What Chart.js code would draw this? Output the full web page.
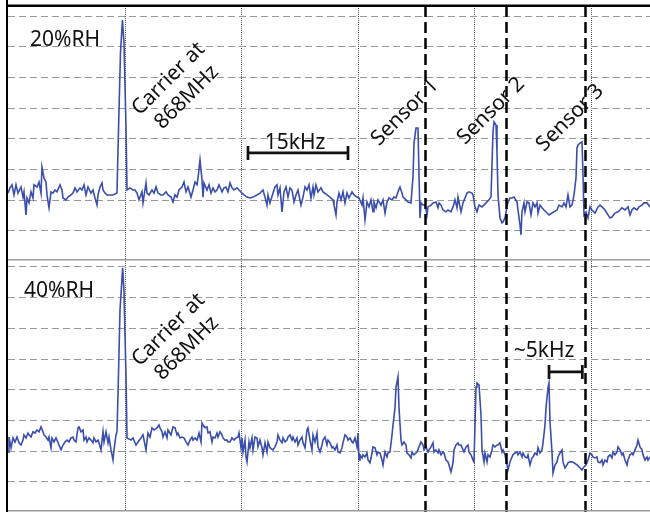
<!DOCTYPE html>
<html>
<head>
<meta charset="utf-8">
<title>RH spectrum</title>
<script src="https://cdn.jsdelivr.net/npm/chart.js"></script>
<style>
  html, body { margin: 0; padding: 0; background: #fff; }
  #wrap { position: relative; width: 650px; height: 512px; overflow: hidden; }
  canvas { position: absolute; left: 0; }
  #topPanel { top: 0; }
  #bottomPanel { top: 261px; }
</style>
</head>
<body>
<div id="wrap">
  <canvas id="topPanel" width="650" height="261"></canvas>
  <canvas id="bottomPanel" width="650" height="251"></canvas>
</div>
<script>
// frequency offset from the 868 MHz carrier (kHz) and received level (dB)
const panelTitles = ['20%RH', '40%RH'];
const carrierText = ['Carrier at', '868MHz'];
const sensorNames = ['Sensor 1', 'Sensor 2', 'Sensor 3'];
const sensorFreqs = [45.3, 57.45, 69.3];
const spanLabels = ['15kHz', '~5kHz'];
const xGridFreqs = [0.3, 17.78, 35.25, 52.73, 70.2];
const yGridLevels = [0, -10, -20, -30, -40, -50, -60, -70];

const freq20 = [
  -17.25, -16.95, -16.65, -16.35, -16.05, -15.75, -15.3, -15.0, -14.85, -14.55, -14.4, -14.1, -13.8, -13.5, -13.35,
  -12.9, -12.6, -12.3, -12.15, -11.85, -11.55, -11.4, -11.1, -10.8, -10.5, -10.2, -9.9, -9.45, -9.15, -9.0,
  -8.55, -8.25, -7.8, -7.5, -7.2, -6.9, -6.45, -6.15, -5.85, -5.55, -5.25, -4.8, -4.5, -4.2, -3.9,
  -3.75, -3.45, -3.15, -3.0, -2.7, -2.4, -1.95, -1.5, -0.9, -0.75, -0.38, -0.08, 0.15, 0.45, 0.6,
  1.05, 1.5, 1.8, 2.1, 2.4, 2.85, 3.0, 3.45, 3.6, 3.9, 4.35, 4.65, 4.95, 5.25, 5.7,
  6.0, 6.45, 6.75, 7.2, 7.5, 7.8, 8.1, 8.4, 8.85, 9.15, 9.45, 9.75, 10.2, 10.5, 10.8,
  11.1, 11.25, 11.55, 11.85, 12.0, 12.15, 12.6, 12.9, 13.2, 13.5, 13.8, 14.1, 14.4, 14.85, 15.15,
  15.45, 15.75, 16.05, 16.35, 16.65, 17.1, 17.4, 17.85, 18.15, 18.6, 19.05, 19.5, 20.1, 20.55, 21.0,
  21.3, 21.6, 21.75, 22.05, 22.5, 22.8, 23.1, 23.25, 23.55, 23.85, 24.15, 24.45, 24.75, 25.05, 25.35,
  25.65, 25.95, 26.25, 26.7, 27.0, 27.3, 27.6, 27.9, 28.2, 28.5, 28.65, 28.95, 29.25, 29.7, 30.0,
  30.6, 31.05, 31.5, 31.65, 31.95, 32.1, 32.4, 32.7, 33.0, 33.3, 33.6, 33.9, 34.35, 34.65, 35.1,
  35.4, 35.85, 36.0, 36.3, 36.6, 36.9, 37.2, 37.5, 37.65, 37.95, 38.25, 38.7, 39.0, 39.3, 39.6,
  39.9, 40.35, 40.65, 40.95, 41.25, 41.55, 41.85, 42.0, 42.45, 42.75, 43.2, 43.5, 43.65, 43.95, 44.25,
  44.4, 44.55, 44.7, 45.0, 45.3, 45.6, 45.75, 46.2, 46.5, 46.95, 47.25, 47.4, 47.7, 48.0, 48.45,
  48.75, 49.2, 49.5, 49.8, 50.1, 50.25, 50.7, 51.0, 51.3, 51.6, 51.9, 52.35, 52.5, 52.8, 53.1,
  53.4, 53.85, 54.15, 54.45, 54.9, 55.2, 55.5, 55.65, 55.95, 56.1, 56.25, 56.55, 56.85, 57.0, 57.3,
  57.6, 57.75, 58.05, 58.35, 58.65, 59.1, 59.25, 59.55, 59.7, 59.85, 60.15, 60.3, 60.6, 60.9, 61.2,
  61.5, 61.8, 62.1, 62.25, 62.55, 62.85, 63.15, 63.6, 63.9, 64.35, 64.65, 65.1, 65.4, 65.85, 66.15,
  66.45, 66.75, 67.05, 67.35, 67.65, 67.95, 68.1, 68.25, 68.55, 68.85, 69.0, 69.15, 69.45, 69.75, 70.05,
  70.35, 70.8, 71.25, 71.55, 71.85, 72.3, 72.75, 73.05, 73.35, 73.8, 74.25, 74.55, 74.85, 75.3, 75.75,
  76.05, 76.35, 76.65, 77.1, 77.4, 77.85, 78.15, 78.6, 79.05
];
const level20 = [
  -57.7, -56.0, -55.0, -58.3, -55.0, -57.7, -55.7, -59.0, -57.3, -64.8, -59.3, -60.9, -57.3, -59.3, -55.0,
  -55.7, -54.1, -57.7, -49.2, -52.8, -54.1, -58.3, -62.5, -57.3, -57.7, -56.7, -57.3, -55.0, -56.7, -59.3,
  -59.9, -59.0, -58.3, -57.7, -56.0, -57.3, -56.0, -56.7, -55.0, -58.3, -55.7, -57.7, -56.7, -59.3, -61.6,
  -58.3, -55.7, -54.4, -56.7, -57.7, -58.3, -58.3, -58.3, -57.7, -43.6, -12.1, -1.3, -8.8, -36.5, -56.7,
  -56.0, -56.7, -56.7, -57.7, -59.9, -57.3, -60.9, -54.4, -57.7, -58.3, -56.7, -57.7, -55.7, -57.7, -58.3,
  -58.3, -57.3, -58.3, -59.0, -60.6, -58.3, -59.0, -56.7, -55.7, -54.1, -57.3, -55.7, -59.0, -56.7, -54.1,
  -55.0, -52.8, -46.9, -53.4, -59.0, -54.4, -56.7, -55.0, -57.7, -56.0, -57.3, -56.7, -55.0, -57.3, -56.0,
  -55.7, -57.3, -54.4, -56.0, -56.7, -56.0, -56.7, -57.7, -58.3, -59.0, -59.3, -59.0, -58.3, -57.7, -56.7,
  -59.0, -61.6, -58.3, -60.9, -57.7, -55.7, -55.0, -58.3, -56.0, -63.8, -57.3, -55.7, -59.0, -56.0, -56.7,
  -60.6, -58.3, -56.7, -61.6, -59.0, -55.7, -56.7, -55.0, -59.3, -55.7, -58.3, -55.0, -57.3, -56.0, -57.3,
  -58.3, -59.0, -59.9, -61.6, -64.8, -60.6, -57.7, -59.9, -57.3, -60.9, -57.7, -59.3, -57.3, -58.3, -59.0,
  -59.3, -61.6, -59.3, -66.4, -60.6, -62.2, -59.9, -63.8, -60.6, -62.5, -59.9, -61.6, -59.9, -64.2, -60.6,
  -59.3, -59.9, -59.0, -59.3, -57.3, -55.7, -57.7, -59.0, -59.9, -60.6, -60.9, -52.4, -41.4, -36.5, -36.5,
  -51.8, -65.8, -60.9, -61.6, -61.6, -64.8, -62.2, -61.6, -60.9, -60.6, -62.5, -60.9, -61.6, -63.2, -63.8,
  -63.2, -63.8, -62.2, -59.9, -62.5, -59.0, -63.8, -60.9, -59.3, -57.7, -57.3, -57.7, -58.3, -62.2, -63.8,
  -61.6, -62.2, -61.6, -60.9, -59.9, -59.0, -37.8, -34.5, -35.5, -44.6, -58.3, -65.8, -67.4, -67.1, -65.8,
  -62.2, -60.6, -59.3, -59.3, -59.0, -60.6, -63.2, -68.1, -71.3, -63.8, -60.9, -63.8, -60.6, -60.9, -64.8,
  -60.9, -62.2, -60.9, -64.2, -61.6, -62.5, -63.2, -64.2, -64.8, -64.2, -63.8, -63.2, -61.6, -62.2, -60.9,
  -62.2, -58.3, -62.2, -61.6, -58.3, -52.8, -43.0, -42.0, -41.4, -41.0, -51.8, -64.8, -63.8, -65.8, -62.2,
  -63.2, -64.2, -62.2, -61.6, -62.2, -63.2, -64.8, -65.8, -65.5, -64.2, -63.8, -63.2, -62.5, -63.2, -62.2,
  -64.8, -63.2, -62.5, -63.2, -62.2, -61.6, -60.9, -60.9, -62.2
];

const freq40 = [
  -17.25, -17.1, -16.8, -16.5, -16.2, -15.9, -15.6, -15.3, -15.0, -14.85, -14.55, -14.25, -14.1, -13.8, -13.5,
  -13.2, -12.9, -12.6, -12.3, -12.0, -11.85, -11.55, -11.25, -11.1, -10.8, -10.65, -10.35, -10.05, -9.9, -9.6,
  -9.3, -9.0, -8.7, -8.4, -8.1, -7.8, -7.5, -7.35, -7.05, -6.75, -6.6, -6.3, -6.0, -5.85, -5.55,
  -5.4, -5.1, -4.8, -4.5, -4.35, -4.05, -3.75, -3.6, -3.3, -3.0, -2.85, -2.55, -2.25, -2.1, -1.8,
  -1.5, -1.35, -1.05, -0.9, -0.75, -0.45, -0.05, 0.15, 0.45, 0.6, 1.2, 1.5, 1.95, 2.25, 2.7,
  3.0, 3.45, 3.75, 4.05, 4.35, 4.65, 5.1, 5.4, 5.55, 5.85, 6.0, 6.3, 6.6, 6.75, 7.2,
  7.5, 7.8, 8.1, 8.25, 8.55, 8.85, 9.15, 9.45, 9.75, 10.05, 10.35, 10.5, 10.8, 11.1, 11.4,
  11.7, 11.85, 12.0, 12.3, 12.6, 12.75, 13.05, 13.35, 13.5, 13.8, 14.1, 14.25, 14.55, 14.85, 15.0,
  15.3, 15.6, 15.75, 16.05, 16.35, 16.65, 16.95, 17.25, 17.4, 17.7, 17.85, 18.0, 18.3, 18.45, 18.6,
  18.9, 19.05, 19.35, 19.5, 19.8, 20.1, 20.25, 20.55, 20.85, 21.0, 21.3, 21.6, 21.75, 22.05, 22.5,
  22.8, 23.1, 23.25, 23.55, 23.85, 24.0, 24.3, 24.6, 24.75, 25.05, 25.35, 25.5, 25.8, 26.1, 26.25,
  26.55, 26.85, 27.0, 27.3, 27.6, 27.75, 28.05, 28.35, 28.5, 28.8, 29.1, 29.25, 29.55, 29.85, 30.0,
  30.3, 30.6, 30.75, 31.05, 31.35, 31.5, 31.8, 32.1, 32.25, 32.55, 32.85, 33.0, 33.3, 33.6, 33.75,
  34.05, 34.35, 34.5, 34.8, 35.1, 35.25, 35.4, 35.55, 35.85, 36.0, 36.3, 36.6, 36.75, 37.05, 37.35,
  37.5, 37.8, 38.1, 38.25, 38.55, 38.85, 39.0, 39.3, 39.6, 39.75, 40.05, 40.35, 40.5, 40.8, 40.95,
  41.25, 41.4, 41.7, 41.85, 42.15, 42.45, 42.6, 42.9, 43.2, 43.35, 43.65, 43.95, 44.1, 44.4, 44.7,
  45.0, 45.15, 45.45, 45.75, 45.9, 46.2, 46.5, 46.65, 46.95, 47.25, 47.4, 47.7, 48.0, 48.15, 48.45,
  48.75, 48.9, 49.2, 49.5, 49.65, 49.95, 50.25, 50.4, 50.7, 51.0, 51.15, 51.45, 51.75, 51.9, 52.2,
  52.5, 52.65, 52.8, 52.95, 53.1, 53.4, 53.7, 53.85, 54.15, 54.3, 54.6, 54.75, 55.05, 55.35, 55.5,
  55.8, 56.1, 56.25, 56.55, 56.85, 57.0, 57.3, 57.6, 57.75, 58.05, 58.35, 58.5, 58.8, 59.1, 59.25,
  59.55, 59.85, 60.0, 60.3, 60.6, 60.75, 61.05, 61.35, 61.5, 61.8, 62.1, 62.25, 62.55, 62.85, 63.0,
  63.3, 63.45, 63.75, 63.9, 64.05, 64.35, 64.5, 64.8, 65.1, 65.25, 65.55, 65.85, 66.0, 66.3, 66.6,
  66.75, 67.05, 67.35, 67.65, 68.1, 68.4, 68.85, 69.15, 69.45, 69.75, 70.05, 70.35, 70.5, 70.8, 71.1,
  71.25, 71.55, 71.85, 72.0, 72.3, 72.6, 72.75, 73.05, 73.35, 73.5, 73.8, 74.1, 74.25, 74.55, 74.85,
  75.0, 75.3, 75.6, 75.75, 76.05, 76.35, 76.5, 76.8, 77.1, 77.25, 77.55, 77.85, 78.0, 78.3, 78.6,
  78.75, 79.05
];
const level40 = [
  -60.3, -55.4, -58.9, -55.7, -57.0, -55.4, -57.3, -58.0, -56.4, -54.7, -55.7, -54.1, -54.7, -55.4, -53.7,
  -54.1, -53.1, -53.7, -52.1, -53.7, -54.7, -55.4, -56.4, -55.4, -58.9, -55.7, -57.0, -55.7, -56.4, -58.0,
  -59.6, -58.0, -57.0, -56.4, -57.0, -55.7, -55.4, -56.4, -57.0, -52.4, -52.1, -53.7, -53.1, -56.4, -55.4,
  -57.0, -55.7, -56.4, -57.3, -55.7, -57.0, -56.4, -57.3, -59.6, -53.7, -57.0, -53.7, -57.3, -55.4, -59.6,
  -62.9, -59.6, -54.7, -53.7, -41.7, -14.0, -0.3, -8.1, -35.8, -55.7, -56.4, -55.7, -58.0, -57.0, -55.7,
  -54.7, -59.6, -54.1, -55.4, -52.4, -53.1, -52.4, -51.5, -52.4, -53.7, -55.4, -53.7, -55.7, -53.1, -54.7,
  -52.1, -52.4, -54.7, -54.1, -55.7, -55.4, -55.7, -57.0, -58.0, -56.4, -55.4, -56.4, -55.7, -56.4, -54.1,
  -57.0, -50.8, -51.5, -52.4, -52.1, -54.1, -53.7, -57.0, -55.4, -55.7, -54.1, -55.4, -53.7, -54.7, -55.7,
  -56.4, -56.4, -57.0, -57.0, -55.7, -56.4, -55.7, -55.4, -54.1, -58.9, -55.7, -60.3, -56.4, -61.9, -63.5,
  -57.0, -58.9, -55.7, -59.6, -55.4, -55.7, -58.6, -56.4, -58.9, -61.2, -57.3, -60.3, -57.0, -58.9, -59.6,
  -58.6, -57.0, -54.7, -56.4, -57.3, -55.7, -57.0, -56.4, -55.4, -54.7, -56.4, -55.4, -57.0, -55.7, -58.0,
  -56.4, -55.4, -57.3, -58.9, -53.1, -52.4, -56.4, -59.6, -54.7, -57.0, -54.1, -58.6, -60.3, -58.0, -56.4,
  -55.4, -58.0, -56.4, -57.3, -58.9, -58.6, -59.6, -58.0, -60.3, -60.6, -58.9, -57.3, -54.7, -55.4, -56.4,
  -55.7, -57.0, -57.3, -55.7, -58.6, -54.1, -62.9, -61.2, -62.2, -61.2, -61.9, -60.6, -62.9, -63.8, -60.6,
  -58.6, -58.9, -61.2, -60.3, -60.6, -62.9, -64.5, -60.3, -61.9, -60.6, -60.3, -54.7, -51.5, -45.9, -39.1,
  -35.8, -45.9, -56.4, -58.0, -57.0, -58.0, -60.6, -61.2, -62.2, -60.3, -61.2, -60.6, -60.3, -58.6, -57.0,
  -58.0, -59.6, -58.6, -60.3, -59.6, -58.6, -57.3, -60.3, -59.6, -60.6, -59.6, -61.2, -60.3, -60.6, -62.9,
  -63.5, -64.5, -66.8, -63.8, -59.6, -58.0, -57.3, -58.0, -58.0, -59.6, -60.3, -58.6, -58.0, -60.3, -61.2,
  -62.9, -63.5, -51.5, -39.1, -37.8, -38.4, -48.2, -59.6, -63.5, -60.6, -63.5, -61.2, -61.9, -59.6, -58.0,
  -58.6, -58.0, -58.0, -57.3, -60.3, -59.6, -61.2, -64.5, -66.1, -63.5, -61.9, -61.2, -60.6, -60.3, -61.2,
  -60.3, -61.9, -60.6, -61.9, -62.2, -61.2, -64.5, -62.2, -61.9, -60.6, -61.2, -58.9, -60.6, -59.6, -57.3,
  -51.5, -45.9, -39.4, -37.8, -50.5, -60.3, -67.1, -64.5, -63.5, -61.9, -60.6, -59.6, -63.5, -65.5, -64.5,
  -63.8, -63.5, -63.5, -63.8, -64.5, -65.1, -66.1, -65.1, -64.5, -62.9, -60.6, -61.2, -61.9, -62.2, -61.9,
  -63.5, -63.8, -62.9, -64.5, -62.9, -63.5, -61.9, -61.2, -62.2, -60.3, -61.2, -60.3, -58.6, -59.6, -61.2,
  -60.6, -62.9, -64.5, -62.9, -61.2, -60.6, -61.2, -59.6, -58.0, -56.4, -58.6, -59.6, -61.2, -62.9, -61.9,
  -62.9, -61.9
];

const FONT = '21px "Noto Sans", "DejaVu Sans", sans-serif';
const TRACE = '#3a4eac';

function drawBracket(ctx, x1, x2, y) {
  ctx.beginPath();
  ctx.moveTo(x1, y); ctx.lineTo(x2, y);
  ctx.moveTo(x1, y - 7); ctx.lineTo(x1, y + 7);
  ctx.moveTo(x2, y - 7); ctx.lineTo(x2, y + 7);
  ctx.stroke();
}

function makePanel(id, freq, level, yMax, padTop, notes) {
  const decor = {
    id: 'decor',
    afterDatasetsDraw(chart) {
      const { ctx, chartArea: a, scales: { x, y } } = chart;
      ctx.save();

      // sensor markers run through the whole figure
      ctx.strokeStyle = '#000';
      ctx.lineWidth = 2.5;
      ctx.setLineDash([11, 5]);
      sensorFreqs.forEach(f => {
        const px = Math.round(x.getPixelForValue(f)) + 0.5;
        ctx.beginPath();
        ctx.moveTo(px, a.top);
        ctx.lineTo(px, chart.height);
        ctx.stroke();
      });
      ctx.setLineDash([]);

      // frame
      ctx.fillStyle = '#000';
      ctx.fillRect(6, 0, 2, chart.height);
      if (padTop > 0) ctx.fillRect(6, a.top - 1.5, chart.width, 2.5);
      ctx.fillStyle = '#9a9a9a';
      ctx.fillRect(8, a.bottom - 1, chart.width, 1.5);

      ctx.fillStyle = '#111';
      ctx.strokeStyle = '#111';
      ctx.font = FONT;

      // panel title
      ctx.textAlign = 'left';
      ctx.textBaseline = 'alphabetic';
      ctx.fillText(notes.title, x.getPixelForValue(notes.titleAt[0]), y.getPixelForValue(notes.titleAt[1]));

      // rotated carrier label
      const cx = x.getPixelForValue(8.2), cy = y.getPixelForValue(-23.5);
      ctx.save();
      ctx.translate(cx, cy);
      ctx.rotate(-Math.PI / 4);
      ctx.textAlign = 'center';
      ctx.textBaseline = 'middle';
      ctx.fillText(carrierText[0], 0, -13);
      ctx.fillText(carrierText[1], 0, 13);
      ctx.restore();

      // sensor names only on the upper panel
      (notes.sensorAt || []).forEach((p, i) => {
        ctx.save();
        ctx.translate(x.getPixelForValue(p[0]), y.getPixelForValue(p[1]));
        ctx.rotate(-Math.PI / 4);
        ctx.textAlign = 'center';
        ctx.textBaseline = 'middle';
        ctx.fillText(sensorNames[i], 0, 0);
        ctx.restore();
      });

      // span bracket
      const s = notes.span;
      ctx.lineWidth = 2.7;
      drawBracket(ctx, x.getPixelForValue(s.from), x.getPixelForValue(s.to), y.getPixelForValue(s.level));
      ctx.textAlign = 'center';
      ctx.textBaseline = 'alphabetic';
      ctx.fillText(s.text, x.getPixelForValue(s.textAt[0]), y.getPixelForValue(s.textAt[1]));

      ctx.restore();
    }
  };

  return new Chart(document.getElementById(id), {
    type: 'line',
    data: {
      datasets: [{
        data: freq.map((f, i) => ({ x: f, y: level[i] })),
        borderColor: TRACE,
        borderWidth: 1.6,
        pointRadius: 0,
        tension: 0,
        fill: false
      }]
    },
    options: {
      responsive: false,
      animation: false,
      events: [],
      layout: { padding: { left: 8, top: padTop, right: 0, bottom: 1 } },
      plugins: { legend: { display: false }, tooltip: { enabled: false } },
      scales: {
        x: {
          type: 'linear',
          min: -17.25,
          max: 79.05,
          afterBuildTicks: sc => { sc.ticks = xGridFreqs.map(v => ({ value: v })); },
          ticks: { display: false },
          grid: { color: '#555', lineWidth: 1, drawTicks: false },
          border: { display: false, dash: [1, 1] }
        },
        y: {
          min: -79.5,
          max: yMax,
          afterBuildTicks: sc => { sc.ticks = yGridLevels.map(v => ({ value: v })); },
          ticks: { display: false },
          grid: { color: '#999', lineWidth: 1, drawTicks: false },
          border: { display: false, dash: [7, 4] }
        }
      }
    },
    plugins: [decor]
  });
}

makePanel('topPanel', freq20, level20, 3.26, 6, {
  title: panelTitles[0],
  titleAt: [-13.95, -9.8],
  sensorAt: [[42.3, -31.3], [55.2, -30.9], [67.05, -33.2]],
  span: { from: 18.75, to: 33.75, level: -44.6, text: spanLabels[0], textAt: [25.8, -43.4] }
});

makePanel('bottomPanel', freq40, level40, 1.95, 0, {
  title: panelTitles[1],
  titleAt: [-14.85, -9.8],
  span: { from: 63.9, to: 68.9, level: -34.2, text: spanLabels[1], textAt: [63.15, -29.3] }
});
</script>
</body>
</html>
